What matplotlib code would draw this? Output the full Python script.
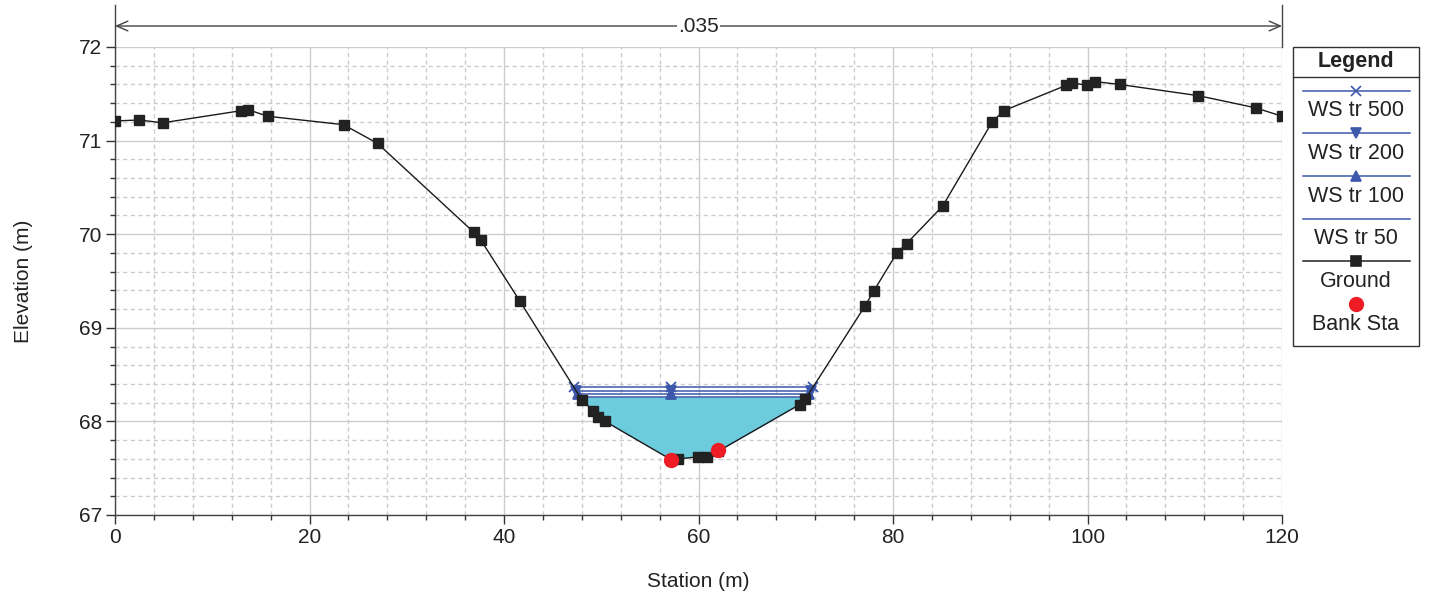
import numpy as np
import matplotlib
matplotlib.use("Agg")
import matplotlib.pyplot as plt
from matplotlib.ticker import MultipleLocator
from matplotlib.lines import Line2D
from matplotlib.patches import Rectangle

plt.rcParams['font.family'] = ['Liberation Sans', 'DejaVu Sans']

# ground profile (station, elevation)
ground_sta = [0.0, 2.5, 4.9, 13.0, 13.7, 15.7, 23.5, 27.0, 36.9, 37.6, 41.6,
              48.0, 49.2, 49.7, 50.4, 57.2, 57.9, 59.9, 60.9, 62.0, 70.4, 71.0,
              77.1, 78.0, 80.4, 81.4, 85.1, 90.2, 91.4, 97.8, 98.4, 99.9, 100.8,
              103.3, 111.4, 117.3, 120.0]
ground_elev = [71.21, 71.22, 71.19, 71.32, 71.33, 71.26, 71.17, 70.97, 70.02, 69.94, 69.29,
               68.23, 68.11, 68.05, 68.00, 67.59, 67.60, 67.62, 67.62, 67.68, 68.18, 68.24,
               69.23, 69.39, 69.80, 69.90, 70.30, 71.20, 71.32, 71.59, 71.62, 71.59, 71.63,
               71.60, 71.48, 71.35, 71.26]

bank_sta = [57.2, 62.0]
bank_elev = [67.59, 67.69]

ws_names = ["WS tr 500", "WS tr 200", "WS tr 100", "WS tr 50"]
ws_elev = [68.365, 68.33, 68.295, 68.262]
ws_markers = ["x", "v", "^", None]

manning_n = ".035"

blue = "#3D58AA"
water = "#6CCBDC"


def crossing(level, side):
    x = np.array(ground_sta)
    y = np.array(ground_elev)
    below = np.where(y < level)[0]
    if side == "left":
        i = below[0]
        x0, x1, y0, y1 = x[i - 1], x[i], y[i - 1], y[i]
    else:
        i = below[-1]
        x0, x1, y0, y1 = x[i], x[i + 1], y[i], y[i + 1]
    return x0 + (level - y0) / (y1 - y0) * (x1 - x0)


fig = plt.figure(figsize=(14.29, 5.97), dpi=100)
ax = fig.add_axes([115 / 1429, 1 - 515 / 597, 1167 / 1429, 468 / 597])

# water fill under lowest profile
gx = np.array(ground_sta)
gy = np.array(ground_elev)
ax.fill_between(gx, gy, ws_elev[-1], where=gy <= ws_elev[-1], interpolate=True,
                color=water, linewidth=0, zorder=2)

# water surface lines
for lev, mk in zip(ws_elev, ws_markers):
    xl = crossing(lev, "left")
    xr = crossing(lev, "right")
    ax.plot([xl, xr], [lev, lev], color=blue, lw=1.1, zorder=3)
    if mk:
        ax.plot([xl, bank_sta[0], xr], [lev] * 3, ls="none", marker=mk,
                color=blue, ms=6.5, mew=1.3, zorder=4)

ax.plot(ground_sta, ground_elev, color="#1a1a1a", lw=1.0, marker="s", ms=6.5,
        mfc="#222222", mec="#222222", zorder=5)
ax.plot(bank_sta, bank_elev, ls="none", marker="o", ms=10, color="#EE1C24",
        zorder=6)

ax.set_xlim(0, 120)
ax.set_ylim(67, 72)
ax.xaxis.set_major_locator(MultipleLocator(20))
ax.xaxis.set_minor_locator(MultipleLocator(4))
ax.yaxis.set_major_locator(MultipleLocator(1))
ax.yaxis.set_minor_locator(MultipleLocator(0.2))
ax.grid(which="major", color="#cccccc", lw=1.0, ls="-", zorder=0)
ax.grid(which="minor", color="#cccccc", lw=1.0, ls=(0, (3, 2.5)), zorder=0)
ax.set_axisbelow(True)
for s in ["top", "right"]:
    ax.spines[s].set_visible(False)
for s in ["left", "bottom"]:
    ax.spines[s].set_color("#444444")
    ax.spines[s].set_linewidth(1.0)
ax.tick_params(which="major", length=6.5, width=1, color="#333333",
               labelsize=15, labelcolor="#222222", pad=3)
ax.tick_params(which="minor", length=3.5, width=1, color="#333333")

ax.set_xlabel("Station (m)", fontsize=15, color="#222222", labelpad=18)
ax.set_ylabel("Elevation (m)", fontsize=15, color="#222222", labelpad=33)

# Manning's n bar across the top
ytop = 1 + 21 / 468
for xv in [0, 120]:
    ax.plot([xv, xv], [1.0, 1 + 42 / 468], transform=ax.get_xaxis_transform(),
            color="#444444", lw=1.0, clip_on=False)
ax.annotate("", xy=(0, ytop), xytext=(120, ytop), xycoords=("data", "axes fraction"),
            textcoords=("data", "axes fraction"),
            arrowprops=dict(arrowstyle="<->,head_length=0.8,head_width=0.35",
                            color="#444444", lw=1.0, shrinkA=0, shrinkB=0))
ax.text(60, ytop, manning_n, transform=ax.get_xaxis_transform(), ha="center",
        va="center", fontsize=15, color="#222222",
        bbox=dict(facecolor="white", edgecolor="none", pad=1))

# legend drawn by hand (label below each symbol)
W, H = 1429, 597


def fx(px):
    return px / W


def fy(py):
    return 1 - py / H


fig.patches.append(Rectangle((fx(1293), fy(346)), fx(126), (346 - 47) / H,
                             transform=fig.transFigure, fill=False,
                             edgecolor="#333333", lw=1.0))
fig.lines.append(Line2D([fx(1293), fx(1419)], [fy(77), fy(77)],
                        transform=fig.transFigure, color="#333333", lw=1.0))
fig.text(fx(1356), fy(62), "Legend", ha="center", va="center", fontsize=15.5,
         fontweight="bold", color="#222222")

leg_items = [(ws_names[0], blue, "x", 90.7, 111),
             (ws_names[1], blue, "v", 133.3, 154),
             (ws_names[2], blue, "^", 175.7, 196.5),
             (ws_names[3], blue, None, 219, 239),
             ("Ground", "#222222", "s", 260.7, 281.5)]
for name, col, mk, ly, ty in leg_items:
    fig.lines.append(Line2D([fx(1303), fx(1410)], [fy(ly), fy(ly)],
                            transform=fig.transFigure, color=col, lw=1.1))
    if mk:
        fig.lines.append(Line2D([fx(1356)], [fy(ly)], transform=fig.transFigure,
                                ls="none", marker=mk, color=col,
                                ms=6.5, mew=1.2))
    fig.text(fx(1356), fy(ty), name, ha="center", va="center", fontsize=15.5,
             color="#222222")
fig.lines.append(Line2D([fx(1356)], [fy(304)], transform=fig.transFigure,
                        ls="none", marker="o", ms=10, color="#EE1C24"))
fig.text(fx(1356), fy(325), "Bank Sta", ha="center", va="center", fontsize=15.5,
         color="#222222")

fig.savefig("out.png", dpi=100)
